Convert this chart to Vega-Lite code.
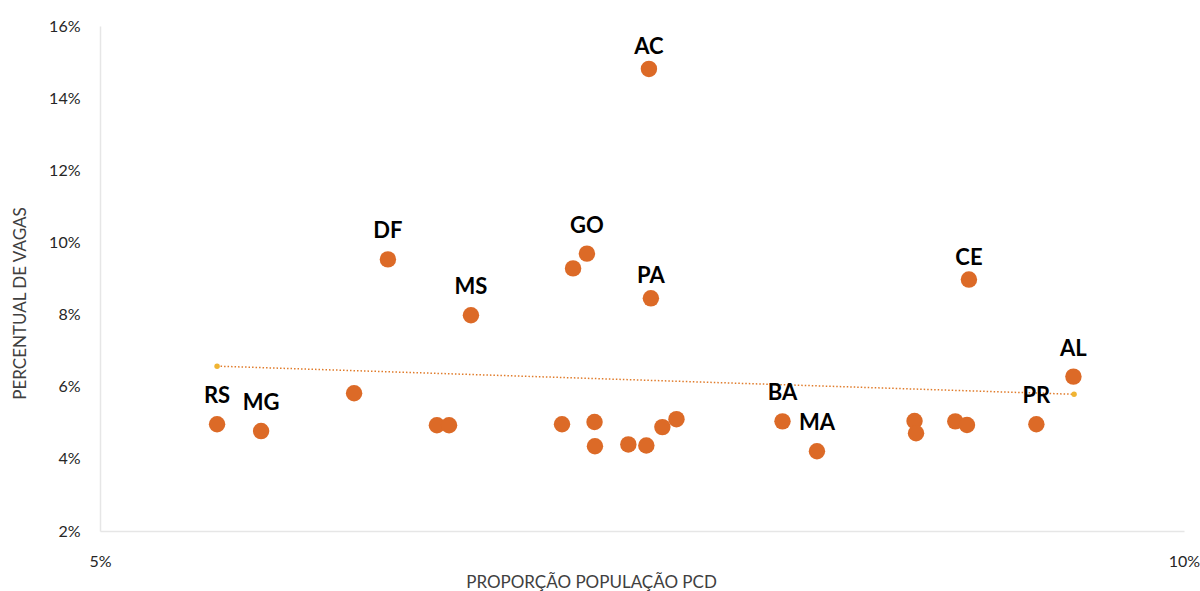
{
  "$schema": "https://vega.github.io/schema/vega-lite/v6.json",
  "autosize": {"type": "none"},
  "width": 1084,
  "height": 505,
  "padding": {"left": 100, "top": 26, "right": 16, "bottom": 60},
  "background": "white",
  "config": {
    "view": {"stroke": null},
    "font": "Lato"
  },
  "datasets": {
    "pts": [
      {"uf": "RS", "pcd": 5.540, "vagas": 4.96},
      {"uf": "MG", "pcd": 5.743, "vagas": 4.77},
      {"uf": "", "pcd": 6.172, "vagas": 5.82},
      {"uf": "", "pcd": 6.554, "vagas": 4.93},
      {"uf": "", "pcd": 6.610, "vagas": 4.93},
      {"uf": "DF", "pcd": 6.328, "vagas": 9.53},
      {"uf": "MS", "pcd": 6.711, "vagas": 7.98},
      {"uf": "", "pcd": 7.131, "vagas": 4.96},
      {"uf": "", "pcd": 7.182, "vagas": 9.28},
      {"uf": "GO", "pcd": 7.246, "vagas": 9.69},
      {"uf": "", "pcd": 7.281, "vagas": 5.02},
      {"uf": "", "pcd": 7.283, "vagas": 4.35},
      {"uf": "", "pcd": 7.437, "vagas": 4.40},
      {"uf": "", "pcd": 7.520, "vagas": 4.37},
      {"uf": "", "pcd": 7.594, "vagas": 4.88},
      {"uf": "", "pcd": 7.659, "vagas": 5.10},
      {"uf": "AC", "pcd": 7.532, "vagas": 14.81},
      {"uf": "PA", "pcd": 7.541, "vagas": 8.45},
      {"uf": "BA", "pcd": 8.148, "vagas": 5.04},
      {"uf": "MA", "pcd": 8.307, "vagas": 4.21},
      {"uf": "", "pcd": 8.757, "vagas": 5.05},
      {"uf": "", "pcd": 8.764, "vagas": 4.71},
      {"uf": "", "pcd": 8.945, "vagas": 5.04},
      {"uf": "", "pcd": 8.999, "vagas": 4.94},
      {"uf": "CE", "pcd": 9.008, "vagas": 8.97},
      {"uf": "PR", "pcd": 9.319, "vagas": 4.96},
      {"uf": "AL", "pcd": 9.490, "vagas": 6.28}
    ],
    "trend": [
      {"pcd": 5.540, "vagas": 6.57},
      {"pcd": 9.493, "vagas": 5.79}
    ]
  },
  "encoding": {
    "x": {
      "field": "pcd", "type": "quantitative",
      "scale": {"domain": [5, 10], "nice": false, "zero": false},
      "axis": {
        "values": [5, 10],
        "labelExpr": "datum.value + '%'",
        "grid": false, "ticks": false,
        "domainColor": "#e6e6e6", "domainWidth": 1.5,
        "labelFontSize": 16, "labelColor": "#262626", "labelPadding": 22,
        "labelFlush": false,
        "title": "PROPORÇÃO POPULAÇÃO PCD",
        "titleFontSize": 17, "titleFontWeight": "normal", "titleColor": "#404040",
        "titleX": 491, "titleY": 56, "titleAlign": "center", "titleBaseline": "alphabetic"
      }
    },
    "y": {
      "field": "vagas", "type": "quantitative",
      "scale": {"domain": [2, 16], "nice": false, "zero": false},
      "axis": {
        "values": [2, 4, 6, 8, 10, 12, 14, 16],
        "labelExpr": "datum.value + '%'",
        "grid": false, "ticks": false,
        "domainColor": "#e6e6e6", "domainWidth": 1.5,
        "labelFontSize": 16, "labelColor": "#262626", "labelPadding": 20,
        "labelFlush": false,
        "title": "PERCENTUAL DE VAGAS",
        "titleFontSize": 17, "titleFontWeight": "normal", "titleColor": "#404040",
        "titleAngle": -90, "titleX": -80, "titleY": 277, "titleAlign": "center", "titleBaseline": "middle"
      }
    }
  },
  "layer": [
    {
      "data": {"name": "trend"},
      "mark": {"type": "line", "color": "#e07b2a", "strokeWidth": 1.5, "strokeDash": [1.5, 2]}
    },
    {
      "data": {"name": "trend"},
      "mark": {"type": "point", "filled": true, "color": "#f0b432", "size": 30, "opacity": 1}
    },
    {
      "data": {"name": "pts"},
      "mark": {"type": "circle", "color": "#dc6a27", "size": 270, "opacity": 1}
    },
    {
      "data": {"name": "pts"},
      "transform": [{"filter": "indexof(['AC','PA','CE'], datum.uf) < 0"}],
      "mark": {"type": "text", "dy": -28, "fontSize": 22, "fontWeight": "bold", "color": "#000000", "font": "Lato"},
      "encoding": {"text": {"field": "uf"}}
    },
    {
      "data": {"name": "pts"},
      "transform": [{"filter": "indexof(['AC','PA','CE'], datum.uf) >= 0"}],
      "mark": {"type": "text", "dy": -22, "fontSize": 22, "fontWeight": "bold", "color": "#000000", "font": "Lato"},
      "encoding": {"text": {"field": "uf"}}
    }
  ]
}
